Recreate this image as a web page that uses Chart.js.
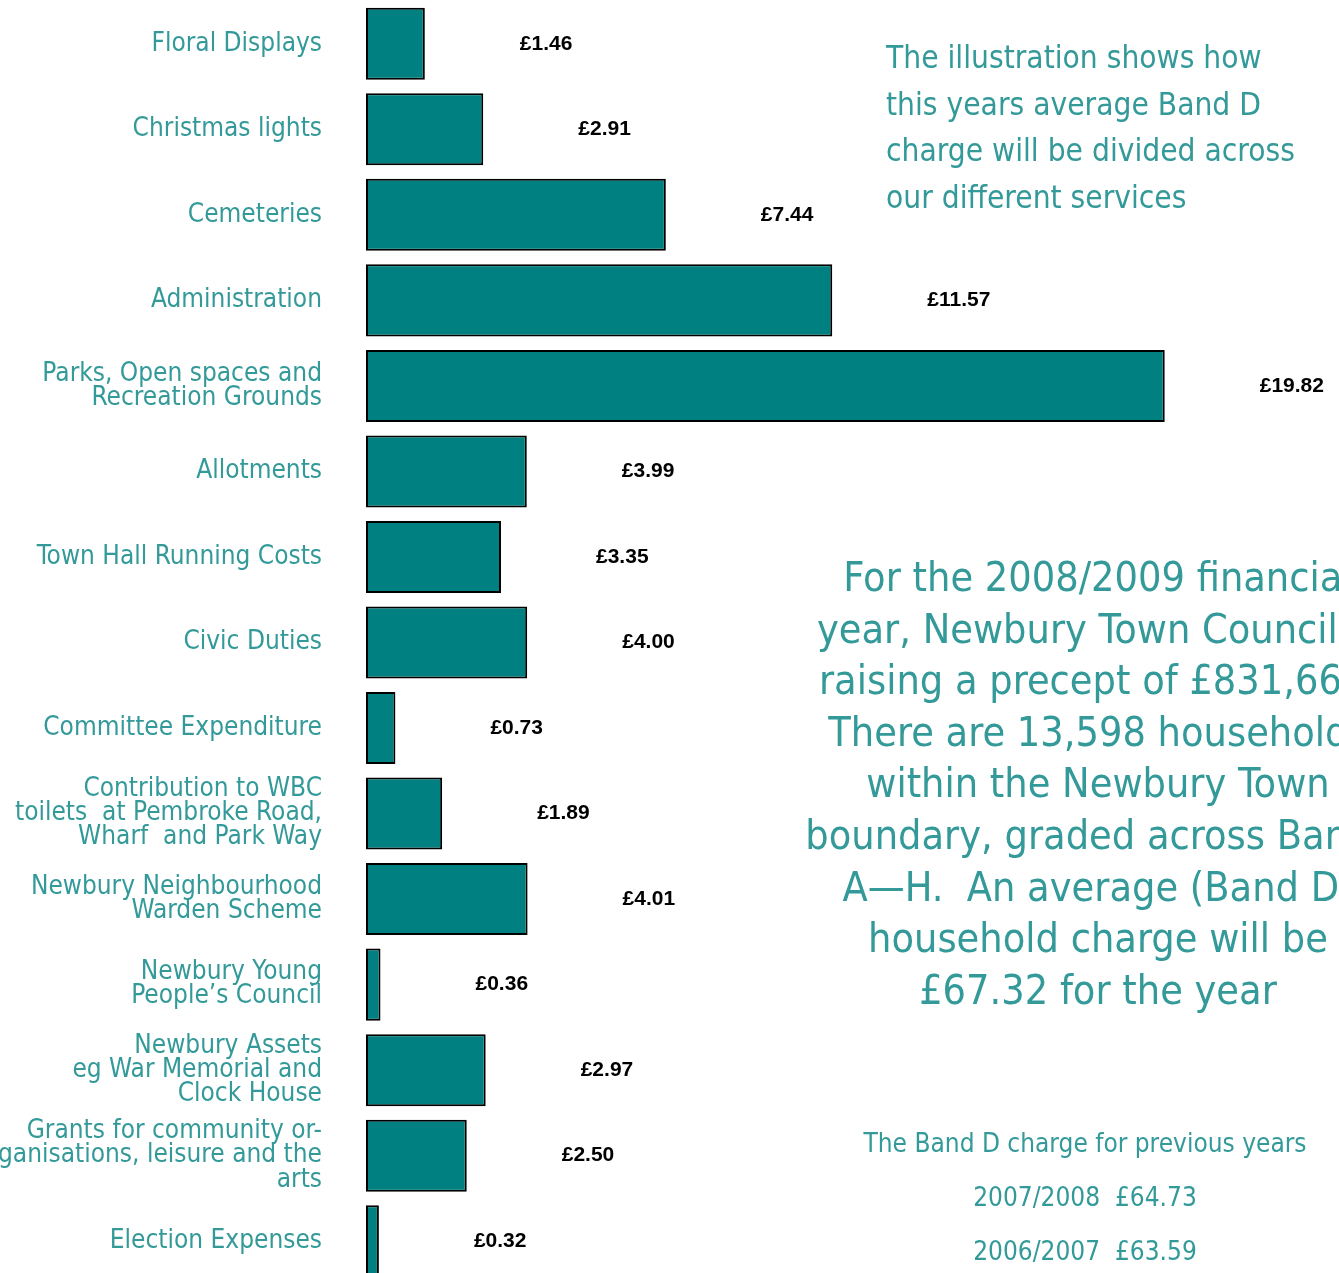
<!DOCTYPE html>
<html>
<head>
<meta charset="utf-8">
<script src="https://cdn.jsdelivr.net/npm/chart.js@4/dist/chart.umd.min.js"></script>
<style>
  html, body { margin: 0; padding: 0; background: #fff; overflow: hidden; }
  #wrap { position: relative; width: 1339px; height: 1273px; overflow: hidden; }
  #spend_chart { position: absolute; left: 0; top: 0; }
  .note {
    position: absolute;
    color: #339999;
    font-family: "DejaVu Sans Condensed", "DejaVu Sans", sans-serif;
    font-stretch: condensed;
    white-space: pre;
  }
  #note1 { left: 886px; top: 34px; font-size: 31.4px; line-height: 46.5px; }
  #note2 { left: 698px; width: 800px; top: 552px; font-size: 41px; line-height: 51.6px; text-align: center; }
  #note3 { left: 785px; width: 600px; top: 1116px; font-size: 26px; line-height: 54px; text-align: center; }
</style>
</head>
<body>
<div id="wrap">
  <canvas id="spend_chart" width="1339" height="1284"></canvas>
  <div class="note" id="note1"></div>
  <div class="note" id="note2"></div>
  <div class="note" id="note3"></div>
</div>
<script>
const categories = [
    'Floral Displays',
    'Christmas lights',
    'Cemeteries',
    'Administration',
    ['Parks, Open spaces and', 'Recreation Grounds'],
    'Allotments',
    'Town Hall Running Costs',
    'Civic Duties',
    'Committee Expenditure',
    ['Contribution to WBC', 'toilets  at Pembroke Road,', 'Wharf  and Park Way'],
    ['Newbury Neighbourhood', 'Warden Scheme'],
    ['Newbury Young', 'People\u2019s Council'],
    ['Newbury Assets', 'eg War Memorial and', 'Clock House'],
    ['Grants for community or-', 'ganisations, leisure and the', 'arts'],
    'Election Expenses'
]
const values = [1.46, 2.91, 7.44, 11.57, 19.82, 3.99, 3.35, 4.00, 0.73, 1.89, 4.01, 0.36, 2.97, 2.50, 0.32]

const introLines = [
    'The illustration shows how',
    'this years average Band D',
    'charge will be divided across',
    'our different services'
]
const preceptLines = [
    'For the 2008/2009 financial',
    'year, Newbury Town Council is',
    'raising a precept of \u00a3831,660.',
    'There are 13,598 households',
    'within the Newbury Town',
    'boundary, graded across Bands',
    'A\u2014H.  An average (Band D)',
    'household charge will be',
    '\u00a367.32 for the year'
]
const previousYears = ['2007/2008', '2006/2007']
const previousCharges = [64.73, 63.59]

document.getElementById('note1').textContent = introLines.join('\n')
document.getElementById('note2').textContent = preceptLines.join('\n')
document.getElementById('note3').textContent = ['The Band D charge for previous years']
    .concat(previousYears.map((y, i) => y + '  \u00a3' + previousCharges[i].toFixed(2)))
    .join('\n')

// draws the £ amount to the right of each bar
const valueLabels = {
    id: 'valueLabels',
    afterDatasetsDraw(chart) {
        const ctx = chart.ctx
        const meta = chart.getDatasetMeta(0)
        ctx.save()
        ctx.font = 'bold 21px "Liberation Sans", Arial, sans-serif'
        ctx.fillStyle = '#000000'
        ctx.textAlign = 'left'
        ctx.textBaseline = 'middle'
        meta.data.forEach((bar, i) => {
            ctx.fillText('\u00a3' + values[i].toFixed(2), bar.x + 95, bar.y)
        })
        ctx.restore()
    }
}

const config = {
    type: 'bar',
    data: {
        labels: categories,
        datasets: [{
            data: values,
            backgroundColor: '#008080',
            borderColor: '#000000',
            borderWidth: 2,
            borderSkipped: false,
            categoryPercentage: 1,
            barPercentage: 0.842,
        }]
    },
    options: {
        indexAxis: 'y',
        responsive: false,
        animation: false,
        layout: {
            padding: { top: 1, right: 167, bottom: 0, left: 0 }
        },
        plugins: {
            legend: { display: false },
            tooltip: { enabled: false }
        },
        scales: {
            x: {
                display: false,
                min: 0,
                max: 20
            },
            y: {
                afterFit(scale) {
                    scale.width = 366
                    scale.paddingTop = 0
                    scale.paddingBottom = 0
                },
                grid: { display: false, drawTicks: false },
                border: { display: false },
                ticks: {
                    color: '#339999',
                    padding: 44,
                    font: {
                        family: '"DejaVu Sans Condensed", "DejaVu Sans", sans-serif',
                        size: 26,
                        lineHeight: 0.93
                    }
                }
            }
        }
    },
    plugins: [valueLabels]
}

const spend_chart = new Chart(
    document.getElementById('spend_chart'),
    config
)
</script>
</body>
</html>
